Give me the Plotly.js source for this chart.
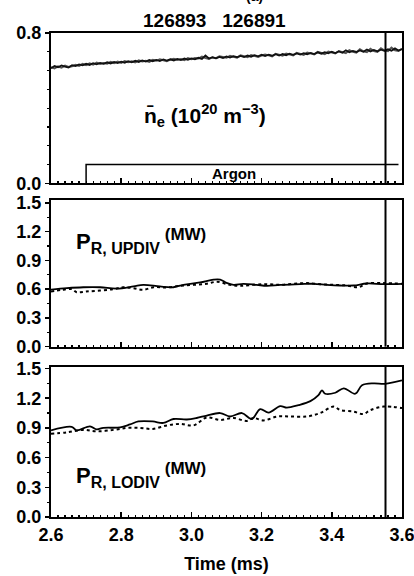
<!DOCTYPE html>
<html><head><meta charset="utf-8">
<script src="https://cdn.plot.ly/plotly-3.0.1.min.js"></script>
<style>html,body{margin:0;padding:0;background:#fff}#plot{width:414px;height:576px}</style>
</head><body><div id="plot"></div>
<script>
// ---- data ----
const shotLabels = ["126893", "126891"];
const timeDense = [];  // 2.60 .. 3.60 ms, step 0.01
for (let i = 0; i <= 100; i++) timeDense.push(+(2.6 + i * 0.01).toFixed(2));

const neShotA = [0.612,0.624,0.618,0.627,0.621,0.616,0.629,0.624,0.633,0.628,
  0.636,0.630,0.639,0.633,0.641,0.636,0.644,0.638,0.646,0.640,
  0.647,0.642,0.650,0.644,0.652,0.646,0.654,0.648,0.656,0.650,
  0.657,0.651,0.659,0.653,0.660,0.654,0.662,0.656,0.664,0.658,
  0.665,0.660,0.668,0.662,0.680,0.664,0.671,0.665,0.673,0.667,
  0.675,0.669,0.677,0.671,0.678,0.672,0.680,0.674,0.682,0.676,
  0.684,0.677,0.685,0.679,0.687,0.680,0.688,0.682,0.690,0.684,
  0.691,0.685,0.693,0.687,0.694,0.688,0.697,0.690,0.698,0.692,
  0.700,0.693,0.702,0.695,0.708,0.697,0.705,0.699,0.707,0.700,
  0.712,0.702,0.710,0.703,0.711,0.705,0.713,0.706,0.718,0.707,0.714];
const neShotB = [0.618,0.611,0.622,0.615,0.626,0.619,0.623,0.631,0.625,0.636,
  0.629,0.638,0.631,0.642,0.635,0.640,0.637,0.646,0.640,0.648,
  0.641,0.651,0.645,0.649,0.643,0.655,0.649,0.652,0.646,0.657,
  0.652,0.660,0.655,0.650,0.658,0.663,0.657,0.661,0.655,0.666,
  0.661,0.667,0.664,0.674,0.667,0.662,0.670,0.666,0.676,0.670,
  0.668,0.678,0.672,0.669,0.681,0.675,0.671,0.683,0.677,0.673,
  0.680,0.686,0.681,0.676,0.689,0.683,0.679,0.691,0.686,0.681,
  0.694,0.688,0.683,0.696,0.690,0.686,0.699,0.693,0.688,0.701,
  0.695,0.691,0.704,0.698,0.693,0.709,0.700,0.696,0.713,0.702,
  0.698,0.716,0.704,0.700,0.719,0.706,0.703,0.722,0.708,0.704,0.716];

const upTimeSolid = [2.60,2.645,2.692,2.74,2.787,2.835,2.863,2.91,2.949,2.977,3.025,3.063,3.082,3.10,3.12,3.148,3.186,3.215,3.253,3.31,3.348,3.386,3.424,3.462,3.50,3.548,3.60];
const upSolid     = [0.595,0.61,0.62,0.62,0.605,0.628,0.645,0.628,0.62,0.645,0.67,0.70,0.70,0.665,0.645,0.656,0.645,0.635,0.645,0.652,0.656,0.645,0.638,0.638,0.659,0.652,0.656];
const upTimeDot   = [2.60,2.632,2.659,2.673,2.70,2.74,2.778,2.806,2.835,2.863,2.892,2.93,2.968,3.006,3.044,3.073,3.11,3.139,3.177,3.215,3.253,3.291,3.329,3.367,3.405,3.443,3.476,3.50,3.548,3.60];
const upDot       = [0.575,0.593,0.60,0.568,0.575,0.586,0.60,0.62,0.61,0.593,0.62,0.617,0.635,0.645,0.656,0.677,0.645,0.635,0.645,0.652,0.645,0.656,0.663,0.652,0.645,0.638,0.62,0.659,0.663,0.656];

const loTimeSolid = [2.60,2.659,2.673,2.711,2.73,2.749,2.797,2.825,2.849,2.89,2.92,2.949,2.987,3.015,3.044,3.082,3.11,3.144,3.172,3.196,3.22,3.253,3.272,3.305,3.339,3.362,3.372,3.381,3.41,3.434,3.467,3.486,3.519,3.552,3.60];
const loSolid     = [0.875,0.91,0.875,0.915,0.885,0.90,0.905,0.935,0.965,0.965,0.95,0.99,0.985,1.00,1.025,1.05,1.015,1.05,0.99,1.09,1.055,1.12,1.105,1.13,1.17,1.23,1.28,1.245,1.255,1.30,1.245,1.33,1.35,1.345,1.38];
const loTimeDot   = [2.60,2.645,2.692,2.73,2.778,2.816,2.854,2.89,2.93,2.968,3.006,3.044,3.082,3.12,3.158,3.177,3.205,3.244,3.28,3.329,3.367,3.405,3.424,3.462,3.49,3.51,3.548,3.60];
const loDot       = [0.84,0.855,0.88,0.865,0.88,0.90,0.90,0.89,0.925,0.94,0.925,1.005,0.98,1.00,0.97,1.00,0.975,1.015,1.015,1.015,1.05,1.115,1.08,1.065,1.04,1.08,1.115,1.10];

const argonTime  = [2.70, 2.70, 3.59];
const argonLevel = [0.0, 0.10, 0.10];
const markerTime = 3.553;

const xTicks = [2.6, 2.8, 3.0, 3.2, 3.4, 3.6];
const xTickText = ["2.6", "2.8", "3.0", "3.2", "3.4", "3.6"];
const pTicks = [0, 0.3, 0.6, 0.9, 1.2, 1.5];
const pTickText = ["0.0", "0.3", "0.6", "0.9", "1.2", "1.5"];
const neTicks = [0, 0.8];
const neTickText = ["0.0", "0.8"];

// ---- style ----
const FONT = "Liberation Sans, Arial, sans-serif";
const tickFont = {family: FONT, size: 18, color: "#000", weight: 700};

function xaxisDef(showLabels, anchor) {
  const a = {
    range: [2.6, 3.6], anchor: anchor,
    showline: true, linecolor: "#000", linewidth: 2, mirror: true,
    showgrid: false, zeroline: false,
    tickmode: "array", tickvals: xTicks, ticktext: xTickText,
    ticks: "inside", ticklen: 5, tickwidth: 1.5, tickcolor: "#000",
    minor: {dtick: 0.02, ticks: "inside", ticklen: 2, tickwidth: 1.2, tickcolor: "#000", showgrid: false},
    showticklabels: showLabels, tickfont: tickFont, ticklabeloverflow: "allow"
  };
  if (anchor !== "y") a.matches = "x";
  return a;
}
function yaxisDef(domain, range, tv, tt, minorStep, anchor) {
  return {
    domain: domain, range: range, anchor: anchor,
    showline: true, linecolor: "#000", linewidth: 2, mirror: true,
    showgrid: false, zeroline: false,
    tickmode: "array", tickvals: tv, ticktext: tt,
    ticks: "outside", ticklen: 4, tickwidth: 1.5, tickcolor: "#000",
    minor: {dtick: minorStep, ticks: "outside", ticklen: 2, tickwidth: 1.2, tickcolor: "#000", showgrid: false},
    tickfont: tickFont, ticklabelstandoff: 0
  };
}

const traces = [
  {x: timeDense, y: neShotB, xaxis: "x", yaxis: "y", mode: "lines", line: {color: "#555", width: 2}, name: shotLabels[1]},
  {x: timeDense, y: neShotA, xaxis: "x", yaxis: "y", mode: "lines", line: {color: "#111", width: 1.8}, name: shotLabels[0]},
  {x: argonTime, y: argonLevel, xaxis: "x", yaxis: "y", mode: "lines", line: {color: "#000", width: 1.5}, name: "Argon"},
  {x: upTimeDot, y: upDot, xaxis: "x2", yaxis: "y2", mode: "lines", line: {color: "#000", width: 2, dash: "dot", shape: "spline"}},
  {x: upTimeSolid, y: upSolid, xaxis: "x2", yaxis: "y2", mode: "lines", line: {color: "#000", width: 1.8, shape: "spline"}},
  {x: loTimeDot, y: loDot, xaxis: "x3", yaxis: "y3", mode: "lines", line: {color: "#000", width: 2, dash: "dot", shape: "spline"}},
  {x: loTimeSolid, y: loSolid, xaxis: "x3", yaxis: "y3", mode: "lines", line: {color: "#000", width: 1.8, shape: "spline"}}
];

const S = (px, t) => "<span style='font-size:" + px + "px'>" + t + "</span>";

const layout = {
  width: 414, height: 576,
  margin: {l: 51, r: 12, t: 33, b: 59},
  paper_bgcolor: "#fff", plot_bgcolor: "#fff",
  showlegend: false,
  font: {family: FONT, color: "#000"},
  xaxis: xaxisDef(false, "y"),
  xaxis2: xaxisDef(false, "y2"),
  xaxis3: Object.assign(xaxisDef(true, "y3"), {
    title: {text: "Time (ms)", font: {family: FONT, size: 18, color: "#000", weight: 700}, standoff: 14}
  }),
  yaxis: yaxisDef([0.6895, 1], [0, 0.8], neTicks, neTickText, 0.1, "x"),
  yaxis2: yaxisDef([0.3519, 0.655], [0, 1.53], pTicks, pTickText, 0.15, "x2"),
  yaxis3: yaxisDef([0, 0.3099], [0, 1.515], pTicks, pTickText, 0.15, "x3"),
  shapes: [
    {type: "line", xref: "x", yref: "y domain", x0: markerTime, x1: markerTime, y0: 0, y1: 1, line: {color: "#000", width: 2}},
    {type: "line", xref: "x2", yref: "y2 domain", x0: markerTime, x1: markerTime, y0: 0, y1: 1, line: {color: "#000", width: 2}},
    {type: "line", xref: "x3", yref: "y3 domain", x0: markerTime, x1: markerTime, y0: 0, y1: 1, line: {color: "#000", width: 2}}
  ],
  annotations: [
    {xref: "paper", yref: "paper", x: 0.467, y: 1.0, yanchor: "middle", yshift: 13, showarrow: false,
     text: "<b>" + shotLabels[0] + "   " + shotLabels[1] + "</b>", font: {family: FONT, size: 19, color: "#000"}},
    {xref: "paper", yref: "paper", x: 0.58, y: 1.0, yanchor: "bottom", yshift: 27, showarrow: false,
     text: "<b>(a)</b>", font: {family: FONT, size: 14, color: "#000"}},
    {xref: "x", yref: "y", x: 3.04, y: 0.36, showarrow: false,
     text: "<b>n\u0304<sub>e</sub> (10<sup>20</sup> m<sup>\u22123</sup>)</b>", font: {family: FONT, size: 21, color: "#000"}},
    {xref: "x", yref: "y", x: 3.12, y: 0.05, showarrow: false,
     text: "<b>Argon</b>", font: {family: FONT, size: 15, color: "#000"}},
    {xref: "x2", yref: "y2", x: 2.666, y: 1.1, xanchor: "left", showarrow: false,
     text: "<b>" + S(22, "P") + "<sub>" + S(16, "R, UPDIV") + "</sub><sup>" + S(17, " (MW)") + "</sup></b>", font: {family: FONT, size: 22, color: "#000"}},
    {xref: "x3", yref: "y3", x: 2.666, y: 0.42, xanchor: "left", showarrow: false,
     text: "<b>" + S(22, "P") + "<sub>" + S(16, "R, LODIV") + "</sub><sup>" + S(17, " (MW)") + "</sup></b>", font: {family: FONT, size: 22, color: "#000"}}
  ]
};

Plotly.newPlot("plot", traces, layout, {staticPlot: true, displayModeBar: false});
</script>
</body></html>
